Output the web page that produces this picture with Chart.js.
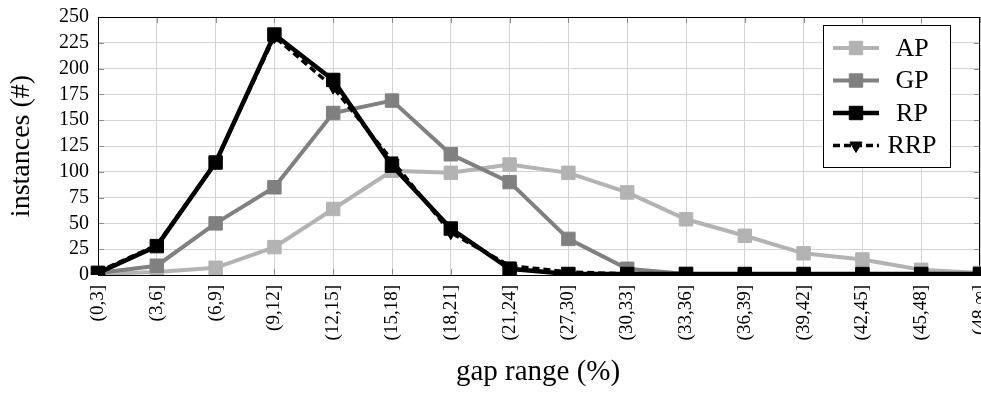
<!DOCTYPE html>
<html><head><meta charset="utf-8">
<script src="https://cdn.jsdelivr.net/npm/chart.js@4/dist/chart.umd.min.js"></script>
<style>html,body{margin:0;padding:0;background:#fff;} canvas{display:block;}</style>
</head><body>
<canvas id="c" width="981" height="398"></canvas>
<script>
const categories = ['(0,3]','(3,6]','(6,9]','(9,12]','(12,15]','(15,18]','(18,21]','(21,24]','(27,30]','(30,33]','(33,36]','(36,39]','(39,42]','(42,45]','(45,48]','(48,\u221E]'];
const apValues  = [1, 3, 7, 27, 64, 101, 99, 107, 99, 80, 54, 38, 21, 15, 5, 2];
const gpValues  = [2, 9, 50, 85, 157, 169, 117, 90, 35, 6, 1, 0, 0, 0, 0, 0];
const rpValues  = [2, 28, 109, 233, 189, 106, 45, 6, 1, 1, 1, 1, 1, 1, 1, 1];
const rrpValues = [3, 29, 109, 231, 182, 111, 41, 9, 3, 1, 1, 1, 1, 1, 1, 1];
const yTicks = [0, 25, 50, 75, 100, 125, 150, 175, 200, 225, 250];
const seriesNames = ['AP', 'GP', 'RP', 'RRP'];
const xTitle = 'gap range (%)';
const yTitle = 'instances (#)';

const SERIF = "'Liberation Serif', 'Times New Roman', serif";

const framePlugin = {
  id: 'frame',
  beforeDatasetsDraw(chart) {
    const ctx = chart.ctx, ca = chart.chartArea;
    const ys = chart.scales.y, xs = chart.scales.x;
    ctx.save();
    ctx.strokeStyle = '#8c8c8c';
    ctx.lineWidth = 1;
    ctx.beginPath();
    yTicks.forEach(v => {
      const y = Math.round(ys.getPixelForValue(v)) + 0.5;
      ctx.moveTo(ca.left, y); ctx.lineTo(ca.left + 6, y);
      ctx.moveTo(ca.right - 6, y); ctx.lineTo(ca.right, y);
    });
    categories.forEach((c, i) => {
      const x = Math.round(xs.getPixelForTick(i)) + 0.5;
      ctx.moveTo(x, ca.bottom); ctx.lineTo(x, ca.bottom - 6);
      ctx.moveTo(x, ca.top); ctx.lineTo(x, ca.top + 6);
    });
    ctx.stroke();
    ctx.strokeStyle = '#000';
    ctx.strokeRect(Math.round(ca.left) + 0.5, Math.round(ca.top) + 0.5, Math.round(ca.right - ca.left) - 1, Math.round(ca.bottom - ca.top));
    ctx.restore();
  },
  afterDraw(chart) {
    const ctx = chart.ctx, ca = chart.chartArea;
    ctx.save();
    ctx.fillStyle = '#000';
    ctx.textAlign = 'center';
    ctx.textBaseline = 'middle';
    ctx.font = '29px ' + SERIF;
    ctx.fillText(xTitle, (ca.left + ca.right) / 2 - 1, 372);
    ctx.font = '28px ' + SERIF;
    ctx.translate(22, (ca.top + ca.bottom) / 2);
    ctx.rotate(-Math.PI / 2);
    ctx.fillText(yTitle, 0, 0);
    ctx.restore();

    // legend
    const L = ca.right - 157, T = ca.top + 8, W = 127, H = 142;
    ctx.save();
    ctx.fillStyle = '#fff';
    ctx.fillRect(L, T, W, H);
    ctx.strokeStyle = '#000';
    ctx.lineWidth = 1;
    ctx.strokeRect(L + 0.5, T + 0.5, W, H);
    chart.data.datasets.forEach((ds, i) => {
      const y = T + 23 + i * 32.5;
      ctx.save();
      ctx.strokeStyle = ds.borderColor;
      ctx.lineWidth = ds.borderWidth;
      ctx.setLineDash(ds.borderDash || []);
      ctx.beginPath();
      ctx.moveTo(L + 10, y); ctx.lineTo(L + 56, y);
      ctx.stroke();
      ctx.restore();
      ctx.save();
      ctx.fillStyle = ds.pointBackgroundColor;
      ctx.strokeStyle = ds.pointBorderColor;
      ctx.lineWidth = ds.pointBorderWidth;
      Chart.helpers.drawPoint(ctx, {
        pointStyle: ds.pointStyle, radius: ds.pointRadius, rotation: ds.pointRotation || 0,
        borderWidth: ds.pointBorderWidth
      }, L + 33, y);
      ctx.restore();
      ctx.fillStyle = '#000';
      ctx.font = '26px ' + SERIF;
      ctx.textAlign = 'center';
      ctx.textBaseline = 'middle';
      ctx.fillText(ds.label, L + 89, y + 1);
    });
    ctx.restore();
  }
};

function mkds(label, data, color, order, extra) {
  return Object.assign({
    label, data, order,
    borderColor: color, backgroundColor: color,
    pointBackgroundColor: color, pointBorderColor: color,
    borderWidth: 4, pointStyle: 'rect', pointRadius: 9.5, pointBorderWidth: 1,
    pointHoverRadius: 9.5, tension: 0, fill: false
  }, extra || {});
}

const chart = new Chart(document.getElementById('c'), {
  type: 'line',
  data: {
    labels: categories,
    datasets: [
      mkds(seriesNames[0], apValues, '#b3b3b3', 4),
      mkds(seriesNames[1], gpValues, '#808080', 3),
      mkds(seriesNames[2], rpValues, '#000000', 2, { borderWidth: 4.5 }),
      mkds(seriesNames[3], rrpValues, '#000000', 1, { borderWidth: 3.5, borderDash: [7, 4], pointStyle: 'triangle', pointRotation: 180, pointRadius: 7 })
    ]
  },
  options: {
    responsive: false,
    animation: false,
    devicePixelRatio: 1,
    layout: { autoPadding: false, padding: { left: 0, right: 1, top: 17, bottom: 0 } },
    plugins: { legend: { display: false }, tooltip: { enabled: false } },
    scales: {
      x: {
        type: 'category',
        offset: false,
        grid: { display: true, color: '#d3d3d3', lineWidth: 1, drawTicks: false, offset: false },
        border: { display: true, color: '#000', width: 1 },
        ticks: {
          autoSkip: false, maxRotation: 90, minRotation: 90, padding: 10,
          color: '#000', font: { family: SERIF, size: 19 }
        },
        afterFit(s) { s.height = 123; s.paddingLeft = 0; s.paddingRight = 0; }
      },
      y: {
        min: 0, max: 250,
        grid: { display: true, color: '#d3d3d3', lineWidth: 1, drawTicks: false },
        border: { display: true, color: '#000', width: 1 },
        ticks: {
          stepSize: 25, padding: 9, color: '#000', autoSkip: false,
          font: { family: SERIF, size: 20 }
        },
        afterBuildTicks(s) { s.ticks = yTicks.map(v => ({ value: v })); },
        afterFit(s) { s.width = 98; s.paddingTop = 0; s.paddingBottom = 0; }
      }
    }
  },
  plugins: [framePlugin]
});
</script>
</body></html>
